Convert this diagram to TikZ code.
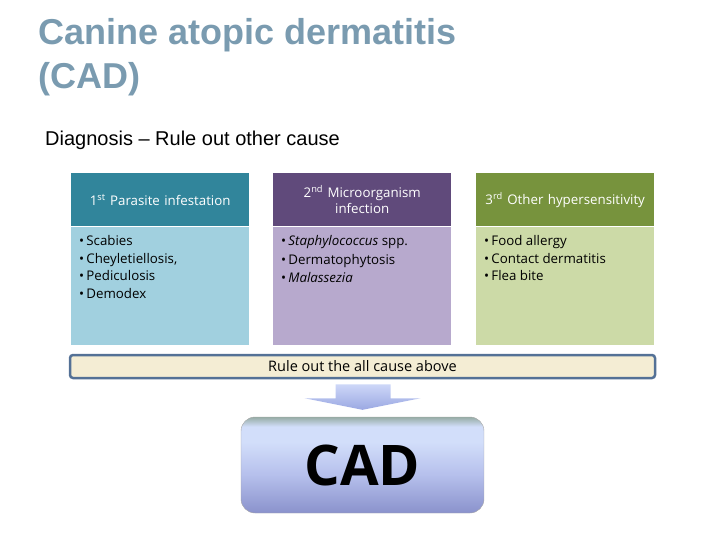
\documentclass[tikz,border=0pt]{standalone}
\usepackage{fontspec}
\setmainfont{Liberation Sans}
\newfontfamily\boxfont{Open Sans}
\usetikzlibrary{positioning,calc}

\definecolor{titleblue}{RGB}{122,155,176}
\definecolor{headA}{RGB}{49,133,155}
\definecolor{bodyA}{RGB}{161,208,223}
\definecolor{headB}{RGB}{96,74,123}
\definecolor{bodyB}{RGB}{183,169,205}
\definecolor{headC}{RGB}{119,147,61}
\definecolor{bodyC}{RGB}{204,218,167}
\definecolor{barline}{RGB}{84,113,150}
\definecolor{barfill}{RGB}{244,237,212}
\definecolor{cadtop}{RGB}{150,172,165}
\definecolor{cadmid}{RGB}{210,222,250}
\definecolor{cadlow}{RGB}{182,192,236}
\definecolor{cadbot}{RGB}{138,146,204}
\definecolor{arrtop}{RGB}{205,215,248}
\definecolor{arrbot}{RGB}{155,168,226}
\pgfdeclareverticalshading{cadshade}{100bp}{color(0bp)=(cadbot); color(25bp)=(cadbot);
	color(45bp)=(cadlow); color(62bp)=(cadmid); color(70bp)=(cadmid); color(75bp)=(cadtop);
	color(100bp)=(cadtop)}

\begin{document}
\begin{tikzpicture}[x=1pt,y=-1pt,line join=round,
	head/.style={minimum width=178pt,minimum height=53pt,inner sep=0pt,text=white,
		text width=172pt,align=center,anchor=north west,
		font=\boxfont\fontsize{13.3}{16}\selectfont},
	body/.style={minimum width=178pt,minimum height=118pt,inner sep=0pt,anchor=north},
	items/.style={anchor=north west,inner sep=0pt,align=left,
		font=\boxfont\fontsize{13.3}{17.5}\selectfont},
	bar/.style={draw=barline,line width=2.5pt,fill=barfill,rounded corners=3pt,
		minimum width=585pt,minimum height=23pt,inner sep=0pt,
		font=\boxfont\fontsize{14.5}{16}\selectfont},
	cadbox/.style={draw=gray!70,rounded corners=14pt,minimum width=243pt,minimum height=96pt,
		shading=cadshade,font=\boxfont\bfseries\fontsize{56}{56}\selectfont}]
	\useasboundingbox (0,0) rectangle (720,540);
	% title
	\node[anchor=north west,inner sep=0pt,text=titleblue,align=left,
		font=\bfseries\fontsize{36}{44}\selectfont] (title) at (38,18)
		{Canine atopic dermatitis\\(CAD)};
	\node[anchor=base west,inner sep=0pt,font=\fontsize{20}{24}\selectfont] (diag) at (45,146)
		{Diagnosis -- Rule out other cause};
	% three groups of causes
	\node[head,fill=headA] (hA) at (71,173) {1\textsuperscript{st} Parasite infestation};
	\node[body,fill=bodyA] (bA) at (hA.south) {};
	\node[head,fill=headB] (hB) at (273,173) {2\textsuperscript{nd} Microorganism\\infection};
	\node[body,fill=bodyB] (bB) at (hB.south) {};
	\node[head,fill=headC] (hC) at (476,173) {3\textsuperscript{rd} Other hypersensitivity};
	\node[body,fill=bodyC] (bC) at (hC.south) {};
	\node[items] (iA) at ($(bA.north west)+(8,9)$)
		{\textbullet\,Scabies\\\textbullet\,Cheyletiellosis,\\\textbullet\,Pediculosis\\\textbullet\,Demodex};
	\node[items,font=\boxfont\fontsize{13.3}{18.5}\selectfont] (iB) at ($(bB.north west)+(8,9)$)
		{\textbullet\,\textit{Staphylococcus} spp.\\\textbullet\,Dermatophytosis\\\textbullet\,\textit{Malassezia}};
	\node[items] (iC) at ($(bC.north west)+(8,9)$)
		{\textbullet\,Food allergy\\\textbullet\,Contact dermatitis\\\textbullet\,Flea bite};
	% rule out bar and result
	\node[bar] (rule) at (362.5,366.5) {Rule out the all cause above};
	\node[cadbox] (cad) at (362.5,465) {CAD};
	\shade[top color=arrtop,bottom color=arrbot]
		($(rule.south)+(-27,5)$) -- ($(rule.south)+(28,5)$) -- ($(rule.south)+(28,19)$)
		-- ($(rule.south)+(58,19)$) -- ($(cad.north)+(0,-7)$) -- ($(rule.south)+(-58,19)$)
		-- ($(rule.south)+(-27,19)$) -- cycle;
\end{tikzpicture}
\end{document}
